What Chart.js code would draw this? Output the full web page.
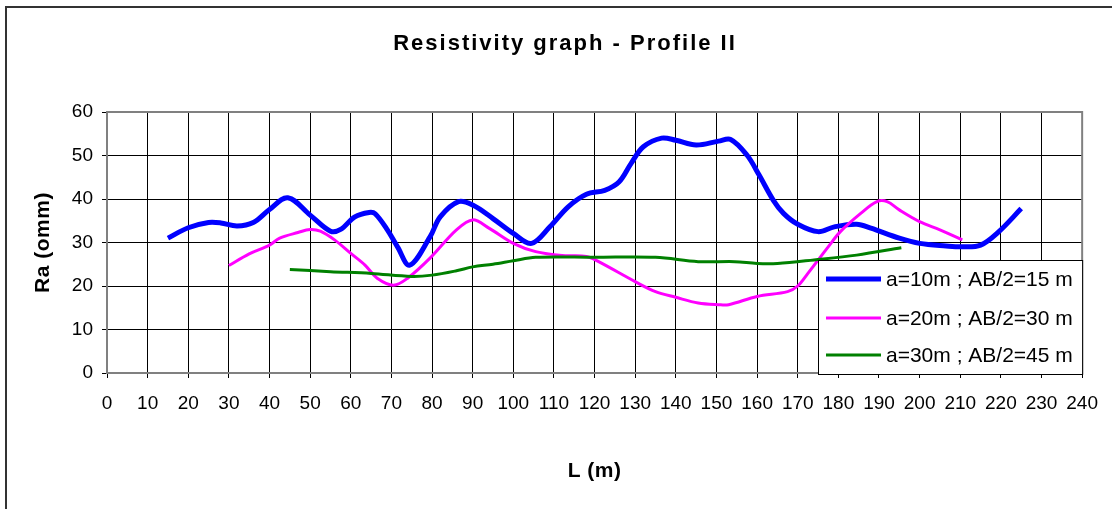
<!DOCTYPE html>
<html>
<head>
<meta charset="utf-8">
<script src="https://cdn.jsdelivr.net/npm/chart.js@4.4.1/dist/chart.umd.min.js"></script>
<style>
  html, body { margin: 0; padding: 0; background: #fff; }
  #wrap { width: 1112px; height: 509px; position: relative; }
</style>
</head>
<body>
<div id="wrap"><canvas id="myChart" width="1112" height="509"></canvas></div>
<script>
// Datos (L en m, Ra en ohm.m)
const chartTitle = 'Resistivity graph - Profile II';
const xTitle = 'L (m)';
const yTitle = 'Ra (omm)';
const seriesNames = ['a=10m ; AB/2=15 m', 'a=20m ; AB/2=30 m', 'a=30m ; AB/2=45 m'];

const blueL = [15, 20, 25, 28, 32, 36, 40, 44.5, 50, 55, 57.5, 61, 64.5, 66, 69, 71.5, 74.5, 79.5, 82, 86.5,
  90, 95, 100, 104.5, 109, 113.5, 118, 122.5, 126, 129, 132, 136.5, 140, 145, 150.5, 153.5, 157.5, 160.5,
  164, 166.5, 170, 175, 179, 184.5, 188, 195, 200, 206.5, 210.5, 215, 219.5, 225];
const blueRa = [31.0, 33.4, 34.6, 34.5, 33.8, 34.6, 37.6, 40.3, 36.3, 32.6, 33.0, 35.9, 36.9, 36.6, 32.9, 29.0, 24.8, 31.3, 35.9, 39.4,
  38.6, 35.5, 32.1, 29.8, 33.6, 38.2, 41.1, 42.0, 43.9, 48.2, 52.0, 54.0, 53.5, 52.4, 53.3, 53.7, 50.1, 45.5,
  39.7, 36.7, 34.2, 32.5, 33.6, 34.2, 33.3, 31.0, 29.8, 29.2, 29.0, 29.4, 32.5, 37.8];

const pinkL = [30, 35, 40, 42.5, 47, 50, 52.5, 56, 60, 63.5, 66.5, 70.5, 74, 79.5, 86, 90, 94, 100, 105.5, 112,
  118, 121, 130, 135, 140, 145.5, 150.5, 153, 160, 167.5, 170, 172.5, 177.5, 180.5, 185.5, 189.5, 192, 195,
  200, 205, 210.5];
const pinkRa = [24.7, 27.4, 29.4, 31.0, 32.3, 33.0, 32.6, 30.6, 27.5, 24.8, 21.8, 20.2, 21.8, 26.4, 32.9, 35.2, 33.3, 29.8, 27.9, 27.0,
  26.8, 25.6, 21.0, 18.7, 17.4, 16.1, 15.7, 15.7, 17.6, 18.7, 20.0, 22.9, 29.0, 32.5, 36.7, 39.4, 39.4, 37.5,
  34.8, 32.9, 30.6];

const greenL = [45, 55, 65, 75, 80, 86, 90, 95, 100, 105.5, 120, 135, 145.5, 154.5, 160, 165, 174, 184.5, 195.5];
const greenRa = [23.8, 23.3, 22.9, 22.2, 22.5, 23.5, 24.4, 25.0, 25.8, 26.6, 26.6, 26.6, 25.6, 25.6, 25.2, 25.2, 26.0, 27.1, 28.8];

const colores = ['#0000ff', '#ff00ff', '#008000'];
const grosores = [5, 3, 3];

function puntos(xs, ys) {
  return xs.map((x, i) => ({ x: x, y: ys[i] }));
}

const FONT = '"Liberation Sans", Arial, sans-serif';

/* Plugin para el marco, titulos y la leyenda dentro del area */
const decor = {
  id: 'decor',
  beforeDraw(chart) {
    const c = chart.ctx;
    c.save();
    c.strokeStyle = '#333';
    c.lineWidth = 2;
    c.strokeRect(6, 7, 1300, 700);
    c.restore();
  },
  afterDraw(chart) {
    const c = chart.ctx;
    const a = chart.chartArea;
    c.save();
    c.fillStyle = '#000';
    c.textAlign = 'center';
    c.textBaseline = 'middle';
    c.font = 'bold 22px ' + FONT;
    c.letterSpacing = '2px';
    c.fillText(chartTitle, 565, 44);
    c.font = 'bold 21px ' + FONT;
    c.letterSpacing = '0.5px';
    c.fillText(xTitle, (a.left + a.right) / 2, 471);
    c.translate(43, (a.top + a.bottom) / 2);
    c.rotate(-Math.PI / 2);
    c.fillText(yTitle, 0, 0);
    c.restore();
  },
  afterDatasetsDraw(chart) {
    const c = chart.ctx;
    const a = chart.chartArea;
    c.save();
    // borde del area de trazado
    c.strokeStyle = '#808080';
    c.lineWidth = 2;
    c.strokeRect(a.left, a.top, a.right - a.left, a.bottom - a.top);
    // leyenda
    const bx = 818, by = 260, bw = a.right - 818, bh = a.bottom - 260 + 1;
    c.fillStyle = '#fff';
    c.fillRect(bx, by, bw, bh);
    c.strokeStyle = '#000';
    c.lineWidth = 1;
    c.strokeRect(bx + 0.5, by + 0.5, bw, bh);
    c.font = '21px ' + FONT;
    c.textAlign = 'left';
    c.textBaseline = 'middle';
    const filas = [279, 318, 355];
    seriesNames.forEach((n, i) => {
      c.strokeStyle = colores[i];
      c.lineWidth = grosores[i];
      c.beginPath();
      c.moveTo(826, filas[i]);
      c.lineTo(881, filas[i]);
      c.stroke();
      c.fillStyle = '#000';
      c.fillText(n, 886, filas[i] + 1);
    });
    c.restore();
  }
};

const ctx = document.getElementById('myChart');

const myChart = new Chart(ctx, {
  type: 'line',
  data: {
    datasets: seriesNames.map((n, i) => ({
      label: n,
      data: puntos([blueL, pinkL, greenL][i], [blueRa, pinkRa, greenRa][i]),
      borderColor: colores[i],
      borderWidth: grosores[i],
      pointRadius: 0,
      tension: 0.35,
      fill: false,
      order: 3 - i
    }))
  },
  options: {
    responsive: false,
    animation: false,
    layout: { padding: { top: 112, right: 21, left: 0, bottom: 0 } },
    plugins: {
      legend: { display: false },
      title: { display: false },
      tooltip: { enabled: false }
    },
    scales: {
      x: {
        type: 'linear',
        min: 0,
        max: 240,
        ticks: { stepSize: 10, color: '#000', font: { family: FONT, size: 19 }, padding: 14, maxRotation: 0, autoSkip: false },
        grid: { color: '#000', lineWidth: 1, tickLength: 5, tickColor: '#000' },
        border: { display: false },
        afterFit(scale) { scale.height = 136; }
      },
      y: {
        min: 0,
        max: 60,
        ticks: { stepSize: 10, color: '#000', font: { family: FONT, size: 19 }, padding: 9 },
        grid: { color: '#000', lineWidth: 1, tickLength: 5, tickColor: '#000' },
        border: { display: false },
        afterFit(scale) { scale.width = 107; }
      }
    }
  },
  plugins: [decor]
});
</script>
</body>
</html>
